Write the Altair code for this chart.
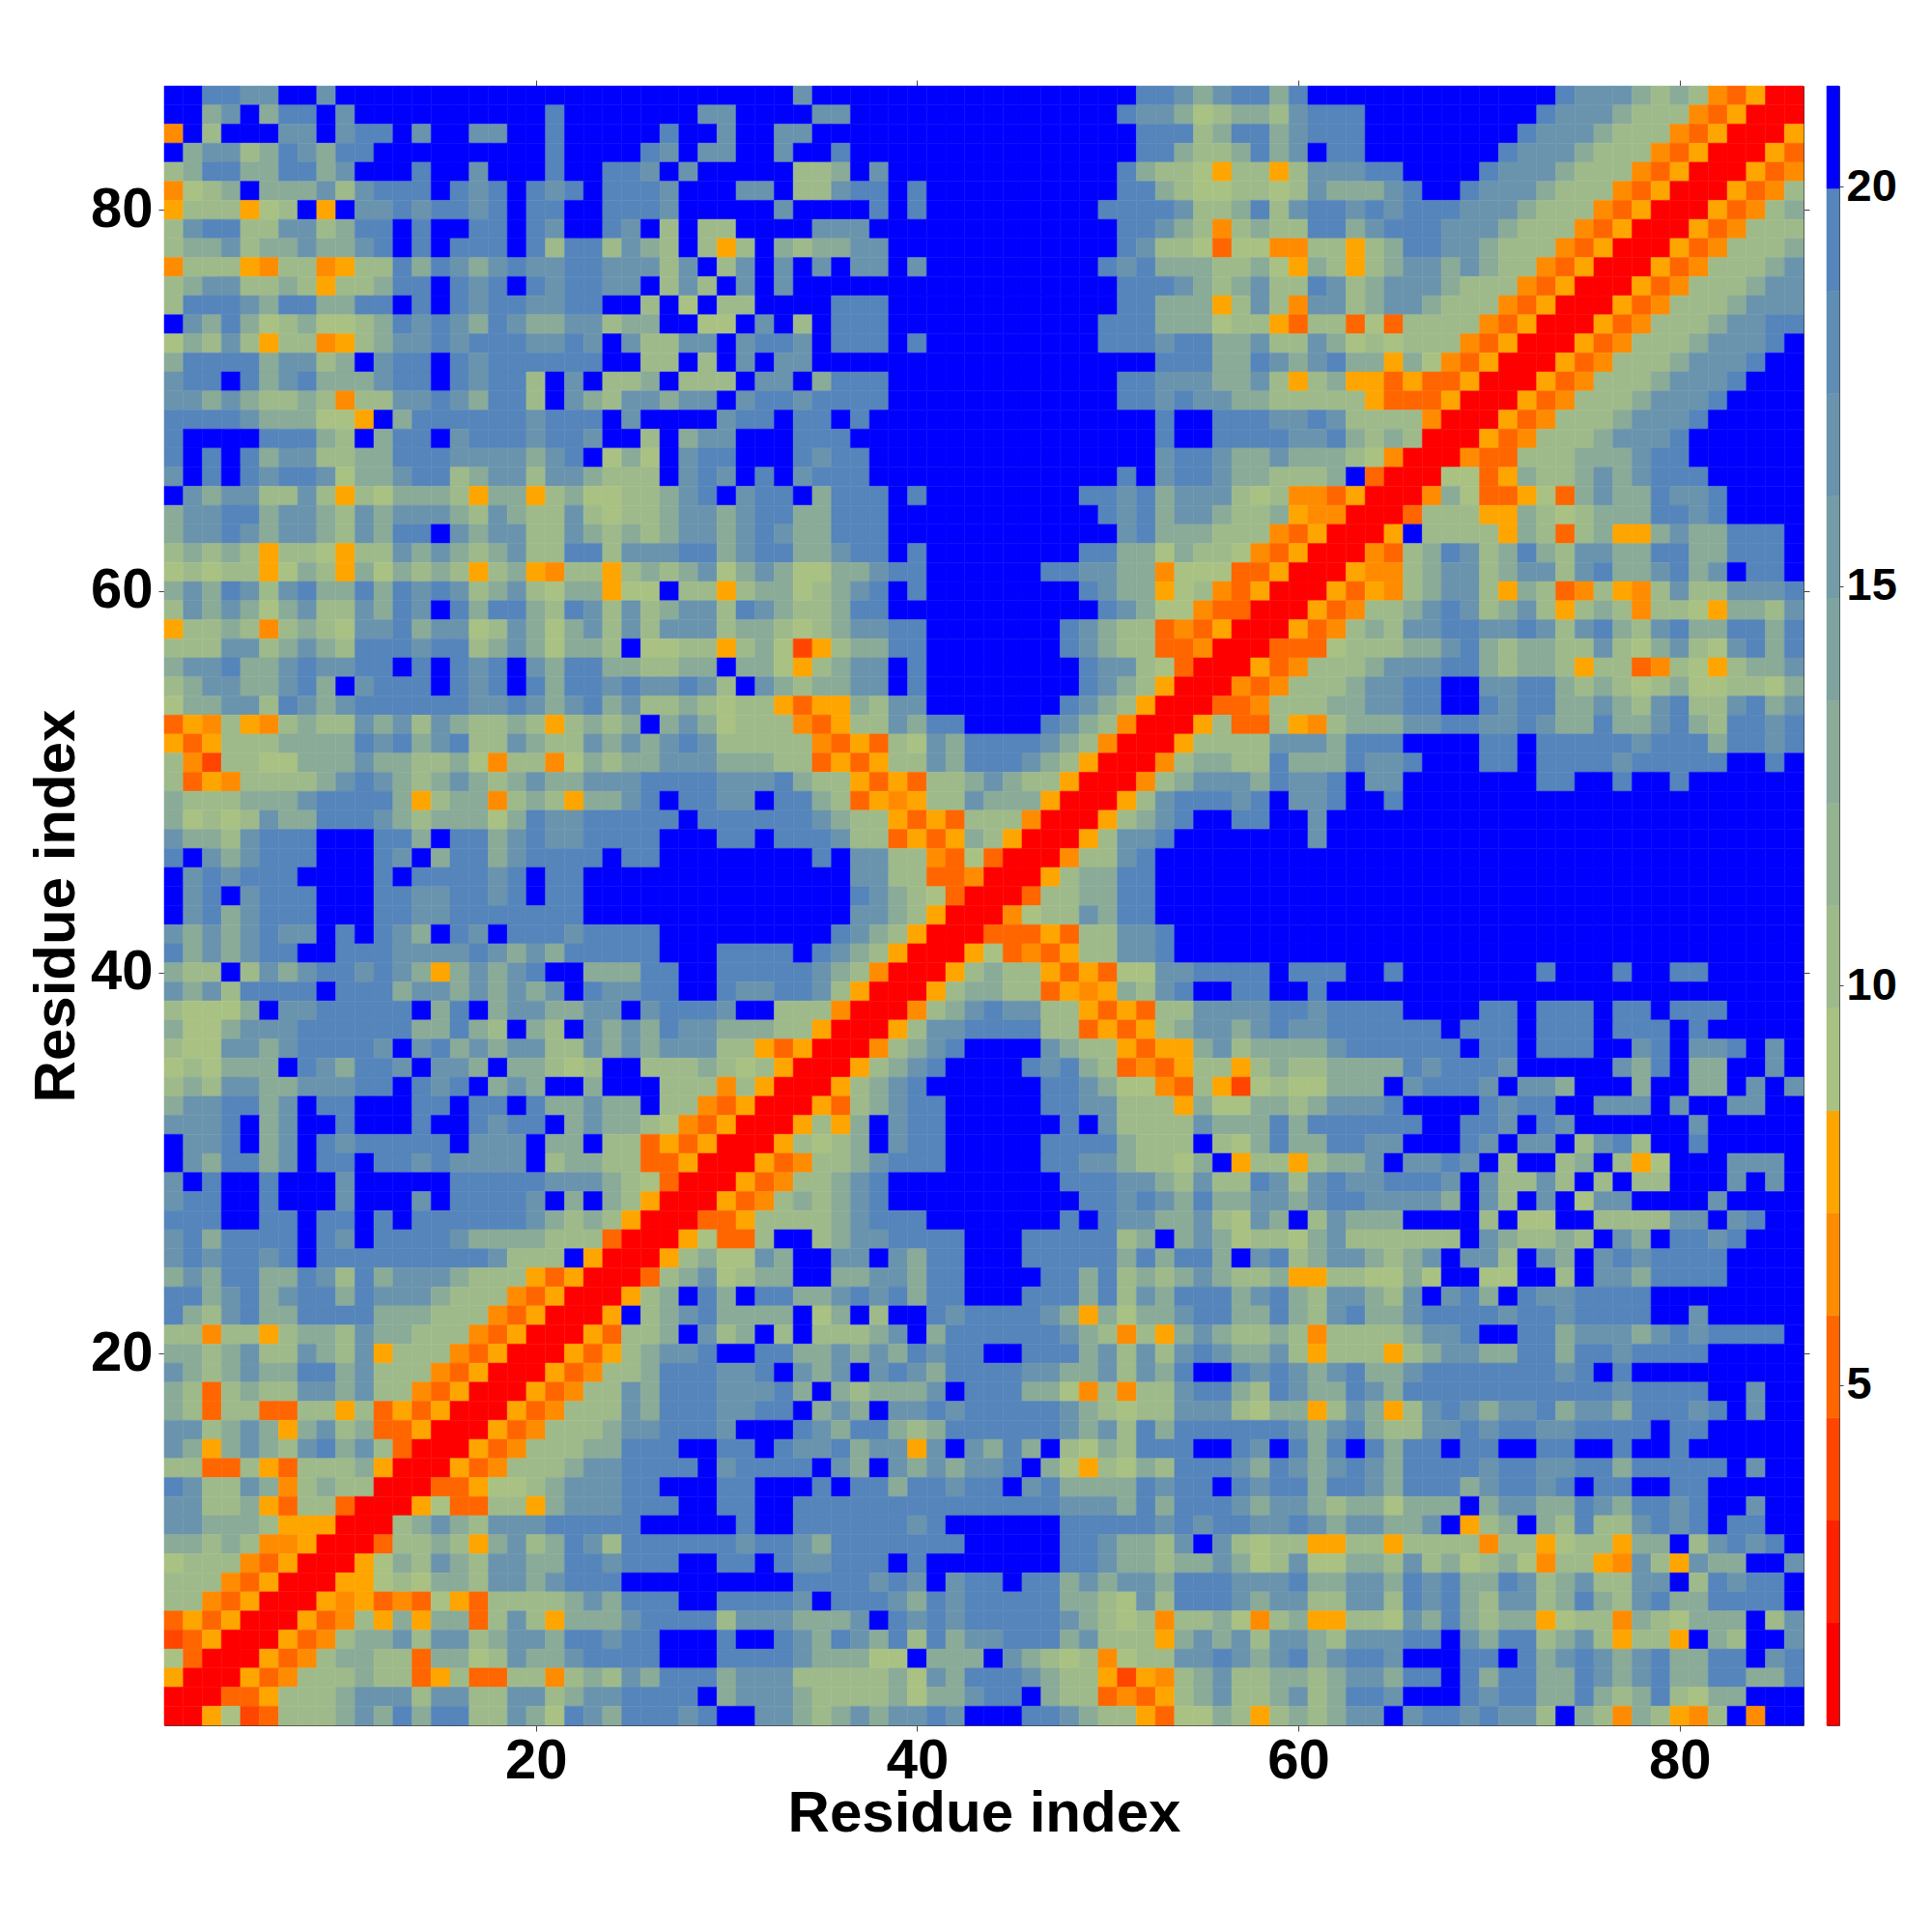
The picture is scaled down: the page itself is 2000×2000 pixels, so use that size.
import altair as alt
import pandas as pd

alt.data_transformers.disable_max_rows()

# cell codes -> distance value
CODE_VALUE = {"R": 1.4, "C": 3.95, "D": 5.2, "E": 6.5, "F": 7.8, "g": 9.1, "i": 10.4,
              "k": 13.0, "m": 16.8, "o": 19.3, "X": 20.6}
BAND_COLORS = ["#ff0000", "#ff2200", "#ff4500", "#ff6600", "#ff8c00", "#ffa500",
               "#a9c283", "#9fba8a", "#94b391", "#8aab98", "#7fa49f", "#749ca6",
               "#6a94ad", "#5f8db4", "#5585bb", "#0000ff"]
VMIN, VMAX = 0.74, 21.26

cols_1_29 = """XX oomm XX m XXXXXXXXXXXXXXXXXXXX
XX k m X k oo X m XXXXXXXXXX o XXXXXXX m
E X i XXX mm X m oo X m XX mm XX o XXXXX o XX
X k mm i k o m k o o XXXXXXXXX o XXXX o m X m
i k oo kk oo k m XXX o XX m XXX o XX oo m X m X
E g i k X kkk m i m ooo X o m o X o m o X oo o m XX
F i ii F g i X F X m m o m oo m o X o o XX oo o m XX
i m oo ii mm i k oo X o XX oo X o m XX o m X i X i
i kk m i k k m kk m o X o X ooo X o i oo i m k i X i
E iii F E ii E F ii o k o m k m o m m oo m mm i m X
i k mm ii k i F ii k oo X o m o X o m oo mm X i m i
i ooo m k oo kk oo X o X o m oo mm oo XX i X g X
X m k o k g i k gg i k o m o m k o m kk mm i kk XX g
g k i m i F ii E F i k mm o m ooo mm o m X m ii mm
k oooo k mm i k X m oo X o m ooo ooo XX ii X i
m oo X o k m o kk k m oo X o m oo i X m X ii k X ii
m m k m k ii k i E ii mm o m k oo i X m k i mm k mm
oooo m k k k gg F X k oo ooo o m ooo X m XXXX
o XXXX ooo k i X k oo X m ooo m oo m XX i X k m
o X o X o k mm ii kk ooo mmmm k m o X g k g X m o
m X o X o m oo m g kk m oo i k mm i m m k iii X m o
X m k mm ii m i F i g kkk i F kk F i k gg ii k m o
k m m o o k m m k i m k mmm k i m k ii m i g i i k mm
k m m o m k m m k i m k oo X m k mm ii m k i k i k mm
i k i k i F ii g F ii m k m k i k m ii oo i mm m oo
g i g i i F g k i F k g k i k i F i k F E ii F i k i k m
k m k o m i m o k k o k o m o m i k m i g k k F g g X i i
i m k m k g k m i i m k o m X o k o o k i o m i m i k m m
F i i k i E i k i g m m o k m m g i m k g k m i m i m m m
i ii mm i k m k i oo o m oo i k m k g k k i X g g i i
k mm o k k m o mm oo X o X o m o X m k oo kk ii k k
i k m m k k m o k X m ooo X o m o X o k oo m o mm o m
g k k m m i o m k m oooo o o mm o m k m o k m i i k i
D F E i F E i k ii m k m i m k ii k i F i k i k X k m k
F D F iii k k kk o m o k m o ii m k i i m k m k m o m
i E C ii gg kkk m kk i i k g E ii E g k i k k mmm
i D F E i i i i k m o m k i k m k i k m k k m m m o o o o
k iii kkk m ooo o k F i k k E i k i F kk m o X oo
k g i g i m k k ooo m k i k k k g k o m m ooooo X o
m k k i m ooo XXX oo k X oo k m o mm oooo XXX
o X m k m ooo XXX o m X k oo k m oooo X oo XXX
X m o m ooo XXXX o X oooo m o X oo XXXXXXX
X m o X m ooo XXX oo mm oo m o X oo XXXXXXX
X m o k m ooo XXX oo mm oooooo o XXXXXXX
m k m k m o mm X o X o m k X o m X ooo m oooo XXX
o k m k m oo XX ooo m mmm o m k m k ooooo XXX
k ii X i m k m oo m o m k F k m k m o XX kkk oo XX
m k m i oooo X ooo k mm k m k m k m X o m m oo XX
i g g g k X m m ooooo X k o X k mm kk mm X m ooo
k gg k m m m o ooooo kk o k i X k i X m k m k o m m
i gg m m k m oooo m X m o k m k mm ii m k m k mmm
g i g kk k X o m k oo m X mm k X kk i g i XX i ii k
i k i mm k k m m m oo X o m o X k m k XX k XXX iii
k m m oo k m X oo XXX oo X oo X o kk m kk X ii E
mmm o X k m XX o XXX o XX o m oo X k m kk i g E D
X mm o X k m X o m ooooo X m mm X kk X ii D F D F
X m k oo k m X oo X oo m o mmmm X i kk ii DD F R
m X o XX o XXX m XXXXX ooooo mmm k i g D RR
m oo XX o XXX m XXX m X oooo m X k X k i F RRR
ooo XX oo X oo X o X oooooo m k i k i F RRR D
m o k oooo X o m X oooo m kkk k iii D RRR F g
m o m oo m o X ooooooo oo m iii X F RRR F i k
k m k oo kk o m i o k m mm k iii F D F RRR D i k m
oo k m o k m oo k o mmm k iii E D F RRR F i k X o
o k i m o kk oo o o kk k iii E D F RRR F X i k m o
ii E ii F i kk i m kk iii E D F RRR F D ii k X m
kk i k m ii m k i m F iii E D F RRR F D F i k mm o
m k i k m k k oo k m iii E D F RRR F D E i i k ooo
k i D i k ii mm k m ii E D F RRR F D E ii m k ooo
k i D ii DD ii F i D F D F RRR F D E iii m k ooo
m m i k m k F k m i k DD F RRR F D E iii k mm ooo
m k F k m k i m o k m i D RRR F D E iii k k ooo XX
ii DD i F D iii k F RRR F D E iii k mm ooo o X
o m ii m k E i k ii RRR DD F gg i k mm m oo XXX
mm ii k F D ii D RRR F g DD ii F k mmm ooo XX
mm kk k i FFF RRR i k m k i mm m ooooo XXXX
kk i k i EE F RRR D ii k i F k m i k o m i ooooo
g iii E D F RRR F g k i m k i m m kk oo m ooo XX
iii E D F RRR FF g i g kk i m m k m ooo XXXXX
ii E D F RRR F E F D E D g F D iiii k m k ooo XX
D F D F RRR F D E i F k F kk D i m i F kkk m oooo
C D F RRR F D E i kk m i mm i k mm k oo m oo XXX
g D RRR F D E i k k ii D k k g i m k k m ooo o XXX
F RRR F D E iii k ii D F i DD ii E i k i m k ooo
RRR DD F ii i k m mm i mm ii mm i k mm o o o o X
RR F g C D iii k m k o k oo ii m k g o m k ooo m o"""

cols_30_58 = """XXXX m XXXXXXXXXXXXXXXXX oo m k m o o
m XXXX mm XXXXXXXXXXXXXX o mm k g i k k
m XX mm XXXXXXXXXXXXXXXXX oo o i k oo
m XX m XX o XXXXXXXXXXXXXXX oo k ii k o
XXXX ii k X m XXXXXXXXXXXX o k i i g F i i
X mm X ii m oo X o XXXXXXXXXX oo k i g g ii
XXX m XXXX o X o XXXXXXXXX oooo m i i k o
i XXXX mmm XXXXXXXXXXXXX oo m k i E i k
F i X k i k k mm XXXXXXXXXXXX o m i i g D g g
i m X m X m X mm X m XXXXXXXXX o m o k k k i i k
X m X m XXXXXXXXXXXXXXXXX oo o m k i k m
ii XXXX ooo XXXXXXXXXXXX oo k k k F i m
g X m X i X ooo XXXXXXXXXXX ooo k k k g i i
X m oo m X ooo X o XXXXXXXXX ooo m oo kk m
X m X mm XXXXXXXXXXXXXXXXXX ooo kk o
i X mm X k ooo XXXXXXXXXXXX oo mmm kk m
X m oo m oooo XXXXXXXXXXXX oo m o m m kk
m oo X oo X o XXXXXXXXXXXXXXX o XX ooo
m XXX ooo XXXXXXXXXXXXXXXX o XX ooo
o XXX o m oo XXXXXXXXXXXXXXX m oo m kk
m X o X m ooo XXXXXXXXXXXXX o X m oo m kk
X m oo X k ooo X o XXXXXXXX oo m o k m mm i g
k m oo k k ooo XXXXXXXXXXX o m o k mm k i i
k m o m k k ooo XXXXXXXXXXXX m o kk k iii
k m oo kk m oo X o XXXXXXXX oo kk g k ii g E
g k m k gg k k m oo XXXXXX oo mm kk E g g g D D
F i k k g i k m o X o XXXXXXXX o m kk F g i E D F
i o m k i i k oo XXXXXXXXXXX o m k gg E D D R
i kk i g i k mm oo XXXXXXX o m k ii D E D F RR
F i k g C F i kk oo XXXXXXX o m k ii DD E RRR
X k k g F i k mm X o XXXXXXXX o m m i g D RRR F
i X m k i k k mm X o XXXXXXXX o m k i F RRR E D
g i i F D F F k i m m XXXXXXX o m k i F RRR D D E
g iii E D F ii m k oo XXXX o m k i E RRR F i DD
iiii i E D F D i g m k oooo m k i E RRR F ii ii
k k k i i D F D F i i m k ooo m k i F RRR E i kk ii
mmmokiiFDFDiikmkiiFRRREikmmmk
m m X o o k i D F E F i i m k k k F R R R F i m o o o m o
ooooo m k ii F D F D iii E RRR F i k m o XX oo
oo X oo o m ii D F D F k i F RRR F i m m o XXXXX
XXXXX o X m m ii E D g D RRR E ii m o XXXXXX
XXXXXXX m m ii DD E RRR F i kk oo XXXXXX
XXXXXXX o m k i g D RRR D ii kk oo XXXXXX
XXXXXXX m m k i F RRR E g ii m k oo XXXXXX
XXXXXX o m k i F RRR DDD F D ii mm o XXXXX
oooo X o m k i F RRR F g D E D F ii mm o XXXXX
ooooo m k i E RRR F i k ii F D F D gg m m oooo
o m m o o m i F RRR F i kk ii D F E F k i m o XX oo
m XX i i i E RRR E i k m o mm ii F D F D ii mm mm
kkk i i F RRR F i m m oooo ii D F D F i k mm k m
i i F D F RRR E i k m o XXXX m k ii F D FF k m i k
igiFRRRFikmoXXXXomokiDEDFiiFi
E i F RRR F i k m o XXXXXX oo m k gg E D i F C g
D F RRR F D i k m oo XXXXX oo m m iii F k gg k
F RRR F i F k X m oo XXXXXX o X m iii i m kkk
RRR F i g i k X m oo XXXXX oo oo k ii i X i g k
RR F D E ii k m ooo XXXXX oo m m k ii g k X F i
R F D E i i k m o XXXXXXXXX ooo m m k i m i i o
F D E i k i k m o XXXXXXXXXX oo m o m k o k k m
D F i iii k m ooo XXXXXXX o X o m m k k m i g m
DD i XX i k m m oooo XXX ooooo i k X k m k g i
g g m k XX m m X m k oo XXX ooo oo k o k o o k X m
g i k k XX kk m m k oo XXXX oo k o i k i k m k i i
k X oo k k m o m o k oo XXX ooo k o i m k ooo k m
kkkk X g k X i XX o m oooo m k F k g kk m oo k k
i k X i X iii k m X k oooooo m k i E i F k m k ii
XX oo k k m k m k o m oo XX ooo k m i m i m o m k k
m m o X m k m X m o m k oooo m m k k m i m k o XX o m
mm m o k X k i kkk m X ooo k k g E i E ii m oo k i
m m o o X k m k X m m o m ooooo m k i g i i m m m i g
m XXX o m k oo k i k oooooo m k m i o k ooooo
oo X o m m o k mm F m X m k o k X i g k i oo o XX o m
m oooo X m k X m k m k m m o X k g F i g k i ooo m k
oo XXX o X oo k oo m oo X m o kkk k o m oo X o m
oo XX ooo ooooooooooo mmm k o k ooo m k
X o XX oooooo m o XXXXXX oooo o m o m oo m
o m oo m k ooooooo XXXXX oo m kk i m X m i g
oo X o m m ooo X o XXXXXXX oo m kk i kk m k g
XXXX oooo m o m X m oo X oo k m k mm k oo o m m
oooo m X ooo m k o m ooooo k k i g m i ooo m k
i m m m k kk m X o m o m ooooo m k i g i E ii k g E
o XX o m k o m k o i o k m m o oo k m iii F k m k m i
oooo m k kk gg X kkk X m k i g i E g i i m m o m k
k m m m i i i i i k g m k ooo m k ii F C F E i k m i i
k mmm k i iii k g kk m oo X k ii D E D F i k m ii
XX m m k i k m k m m o m XXX oo m k ii F D gg k i F"""

cols_59_86 = """k o XXXXXXXXXXXXX o mm m k i k i E D F RR
i m ooo XXXXXXXXX o m mm k i i i E D F RRR
k m ooo XXXXXXXX o m mm k iii E D F RRR F
k m X oo XXXXXXX o m mm k iii E D F RRR F D
F i mmm oo XXXX o m mm k iii E D F RRR F D E
g i m kk k m o XX o mm m k iii E D F RRR F D E i
i m oo m o m ooo m mm k iii E D F RRR F D E i k
i i oo k m ooo m mm k iii E D F RRR F D E iii
E E ii F i k oo mm k iii E D F RRR F D E iii k
g F k i F i k mm k m k ii E D F RRR F D E iii k m
i i o m i k mm m k iii E D F RRR F D E iii k m m
i E mm i k mm k iii E D F RRR F D E iii k m mm
F D ii D g D iiii E D F RRR F D E iii k m m o o
ii m k g i g iii E D F RRR F D E iii k mm m o X
m k m o k k F k g E D F RRR F D E iii k mm m o XX
i F i k FF D F DD F RRR F D E iii k mm m o XXX
iiii i F DDD F RRR F D E iii k mm m o XXXX
m m o m iiii E RRR F D E iii k mm m o XXXXX
o m m o k i k i RRR F D E iii k mm m o XXXXXX
m k k k i g E RRR E DD iii k kk m oo XXXXXX
i i i k X D RRR gg D F k ii k m k m ooo XXXXX
i EE D F RRR E k g DD F g D k m kk o m m o XXXX
k F EE RRR D iii FF k i g i k kk oo m o XXXX
E D F RRR F X iiii F k i D i k FF k m k k ooo X
D F RRR E D i k o m i k o k i mm kk oo k k ooo X
F RRR F EE i k m m i k mm i m o kk m o k m X oo X
RRR F D F E i k mm i F k i D E i F E i m i i mmm o
RR F D E ii k m o m i k m i F i k i E ii g F kk i m
R F D E i k i m m oo m m o m i m o k i m o kk oo k o
DDD g i i i k k m o k i k k i i m i g k m i g m o k o
D E iii k m mm oo k i kk i F i i D E i g F i k k m
E iii k m m oo XX mm oo k i k i g i k gg ii g k
iii k k m m oo XX o m oo k k m k i m o ii m o k m
i F E i kkk m m oo mm o m k k o k k m o k i oo m o
m m m k ooo XXXX oo X ooooo m ooo k oo m o
o k k k o m m o XXX oo X oooo m ooooo XX o X
o m m o X m m XXXXXXX oo XX o XX o XXXXXX
X m m o XX o XXXXXXXXXXXXXXXXXXXXX
XX m XXXXXXXXXXXXXXXXXXXXXXXXX
XX m XXXXXXXXXXXXXXXXXXXXXXXXX
XXXXXXXXXXXXXXXXXXXXXXXXXXXX
XXXXXXXXXXXXXXXXXXXXXXXXXXXX
XXXXXXXXXXXXXXXXXXXXXXXXXXXX
XXXXXXXXXXXXXXXXXXXXXXXXXXXX
XXXXXXXXXXXXXXXXXXXXXXXXXXXX
XXXXXXXXXXXXXXXXXXXXXXXXXXXX
X ooo XX o XXXXXXX o XXX o XX oo XXXXX
XX o XXXXXXXXXXXXXXXXXXXXXXXXX
oo m oooo XXXX oo X ooo X oo X ooo XXXX
o m m oooooo X ooo X ooo X ooo X o XXXXX
kkk m oooooo X oo X ooo XX m o X mm o X m X
k i i kkk k o m ooo m XXXXX m k o X kk XX m X
i g g kkk X m ooo m X mm k XXX k XX kk X m X m
k i k m m m o XXXX o m oo XX mmm X m XX mm XX
o k o ooooo XX oo m X o m XXXXXX m XXXXX
o k k o o m m XXX o m X m m X i m o i XX o XXXXX
i F i k k m X m m o m X i XX i k X i F g XXX mmm X
m i m o mm ooo m X m ii m i X i X ii XXX m X m X
m k m o o m m m m k X m i X m X g mm XXXX m XXXX
k X i m kkk XXXX i X gg XX iiii mm X m o XX
i g k m iiii ii X m k ii k i X m k X oo m o XXX
o i k mm k i k m X m m i X m k X m o m oooo XXXX
k FF ii gg k g XX gg XX i X mm k oooo XXXX
o k i m m k i m X m o k X o m m oooo XXXXXXXX
o k i m o k k m o ooo m oo m oooo XX m XXXXX
k i E ii ii k m m o XX oo k mmm k m o m oooo X
m i F iii F i k mm k k oo k o o m oooo XXXXX
o m k m o k k m o ooooo o m o X o XXXXXXXXX
o m k k o m k ooooooooooo m oooo XX m XX
k k F i m k F i m o m k mm o k mm k ooo m o X m XX
o m k m o k i i m m o m oo m m ooo o X oo XXXXX
X o k o X o k oo X oo XX oo XX o XX o XXXXXX
o m k m o m k oooo m oo m m oo k ooo o o X m XX
oo k o o m k ooo k m oo m o X oo XX oo XXXXX
mm k i k k g kk k X k mm kk o m k oo m o XX m XX
m o m k m m k k m X F i k X k i o i i m o m o X o o X X
ii FF ii F i ii i E i i F g ii F kk X i m o m o X
i m g g k k i m i k g i k g E i i F E m i F m k k XX m
m o k k mm k o m o k k o m i k m i i m m X i o m o o X
mm ii mm i o m o k i mm i k o k i m o kk ooo o X
i k FF ii g m k o k i k k F g ii E k i g kkk X i m
mm k i mmm oo X m k oo i k m i F ii F X k i XX m
m o k m o o m XXX oo X o k m o m k m o kk oo X m o
kk i k mm k oo X o k oo kk o m k m o kk oo kk o
k m i k oo m XXX o m oo k k o k i k o i g kk XXX
i k i k mm X m oo m o mm i X k i E k i F E i X E XX"""

TICKS = [20, 40, 60, 80]
CBAR_TICKS = [5, 10, 15, 20]
N = 86


def seg(s, n):
    s = s.replace(" ", "")
    return (s + s[-1] * n)[:n]


rows = []
for a, b, c in zip(cols_1_29.split("\n"), cols_30_58.split("\n"), cols_59_86.split("\n")):
    rows.append(seg(a, 29) + seg(b, 29) + seg(c, 28))

records = []
for r, row in enumerate(rows):
    for c, ch in enumerate(row):
        records.append({"x": c + 0.5, "x2": c + 1.5, "y": N - r - 0.5, "y2": N - r + 0.5,
                        "v": CODE_VALUE[ch]})
df = pd.DataFrame(records)

FONT = "Liberation Sans"
AXC = "#444444"
dom = [0.5, 86.5]
color = alt.Scale(type="quantize", domain=[VMIN, VMAX], range=BAND_COLORS)
SIZE = 1697


def ax(orient, labels=True, title=None, label_pad=6, title_pad=4):
    kw = dict(orient=orient, values=TICKS, grid=False, domain=False, tickSize=6, tickWidth=1,
              tickColor=AXC, labels=labels)
    if labels:
        kw.update(labelFont=FONT, labelFontWeight="bold", labelFontSize=58, labelColor="black",
                  labelPadding=label_pad, labelFlush=False, format="d")
    if title:
        kw.update(title=title, titleFont=FONT, titleFontWeight="bold", titleFontSize=60,
                  titleColor="black", titlePadding=title_pad)
    else:
        kw.update(title=None)
    return alt.Axis(**kw)


cells = alt.Chart(df).mark_rect(strokeWidth=0.5).encode(
    x=alt.X("x:Q", scale=alt.Scale(domain=dom, nice=False, zero=False),
            axis=ax("bottom", True, "Residue index", label_pad=2, title_pad=-4)),
    x2="x2:Q",
    y=alt.Y("y:Q", scale=alt.Scale(domain=dom, nice=False, zero=False),
            axis=ax("left", True, "Residue index", label_pad=6, title_pad=4)),
    y2="y2:Q",
    color=alt.Color("v:Q", scale=color, legend=None),
    stroke=alt.Stroke("v:Q", scale=color, legend=None),
)
mirror = alt.Chart(pd.DataFrame({"t": TICKS})).mark_point(opacity=0).encode(
    x=alt.X("t:Q", scale=alt.Scale(domain=dom, nice=False, zero=False), axis=ax("top", False)),
    y=alt.Y("t:Q", scale=alt.Scale(domain=dom, nice=False, zero=False), axis=ax("right", False)),
)
heat = alt.layer(cells, mirror).resolve_axis(x="independent", y="independent").properties(width=SIZE, height=SIZE)

step = (VMAX - VMIN) / len(BAND_COLORS)
bands = pd.DataFrame({"lo": [VMIN + i * step for i in range(16)], "hi": [VMIN + (i + 1) * step for i in range(16)],
                      "mid": [VMIN + (i + 0.5) * step for i in range(16)]})
cbar = alt.Chart(bands).mark_rect(strokeWidth=0.5).encode(
    y=alt.Y("lo:Q", scale=alt.Scale(domain=[VMIN, VMAX], nice=False, zero=False),
            axis=alt.Axis(orient="right", values=CBAR_TICKS, title=None, grid=False, domain=False, tickSize=4,
                          tickColor=AXC, labelFont=FONT, labelFontWeight="bold", labelFontSize=47,
                          labelColor="black", labelPadding=3, format="d")),
    y2="hi:Q",
    color=alt.Color("mid:Q", scale=color, legend=None),
    stroke=alt.Stroke("mid:Q", scale=color, legend=None),
).properties(width=13, height=SIZE)

chart = alt.hconcat(heat, cbar, spacing=16).resolve_scale(color="independent", stroke="independent").configure_view(
    stroke=AXC, strokeWidth=1
).properties(padding={"left": 19, "top": 74, "right": 5, "bottom": 5}, background="white")

chart.save("out.html", embed_options={"renderer": "svg", "actions": False})
